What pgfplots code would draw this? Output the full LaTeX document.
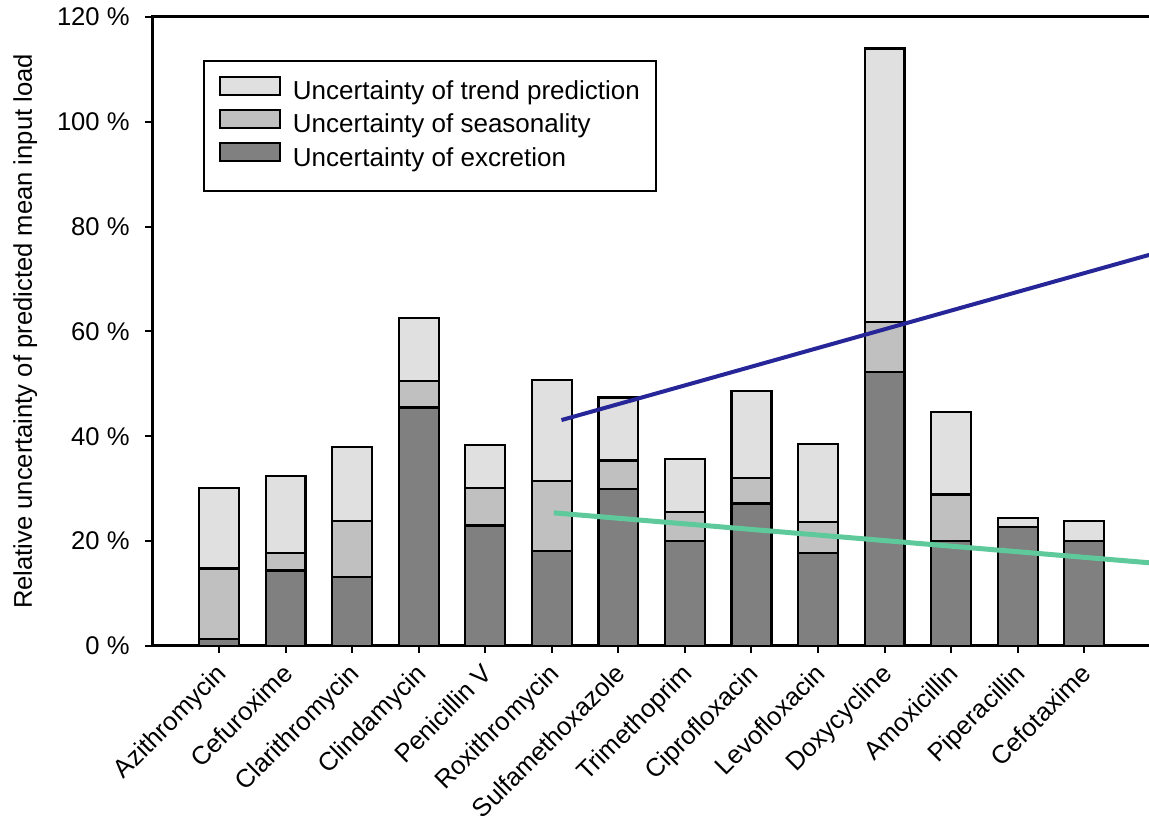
\documentclass[border=0pt]{standalone}
\usepackage{pgfplots}
\usepackage{pgfplotstable}
\pgfplotsset{compat=1.18}
\usepackage{fontspec}
\setmainfont{Liberation Sans}

\definecolor{trendc}{RGB}{224,224,224}
\definecolor{seasc}{RGB}{192,192,192}
\definecolor{excc}{RGB}{128,128,128}
\definecolor{blueline}{RGB}{38,38,152}
\definecolor{greenline}{RGB}{94,201,154}

\pgfplotstableread{
x exc seas trend
0 1.3 13.5 15.3
1 14.4 3.3 14.8
2 13.1 10.7 14.2
3 45.5 5.1 11.9
4 23.0 7.1 8.2
5 18.1 13.4 19.25
6 30.0 5.4 12.0
7 20.1 5.5 10.1
8 27.2 4.8 16.6
9 17.7 6.0 14.9
10 52.3 9.45 52.25
11 20.1 8.8 15.7
12 22.7 0 1.65
13 20.1 0 3.7
}\datatable

\begin{document}
\begin{tikzpicture}[font=\fontsize{12.8}{15}\selectfont]
\begin{axis}[
  at={(0,0)}, anchor=south west,
  scale only axis, width=505.8pt, height=314.5pt,
  xmin=-1, xmax=14.2, ymin=0, ymax=120,
  ybar stacked, bar width=0.6,
  axis line style={line width=1.5pt},
  tick align=outside, tick pos=left,
  major tick length=3.5pt,
  every tick/.style={line width=1pt, black},
  ytick={0,20,...,120},
  /pgf/number format/assume math mode=true,
  yticklabel={\pgfmathprintnumber{\tick} \%},
  yticklabel style={inner sep=0pt, anchor=east, xshift=-7.75pt},
  xtick={0,...,13},
  xticklabels={Azithromycin,Cefuroxime,Clarithromycin,Clindamycin,Penicillin V,Roxithromycin,Sulfamethoxazole,Trimethoprim,Ciprofloxacin,Levofloxacin,Doxycycline,Amoxicillin,Piperacillin,Cefotaxime},
  xticklabel style={inner sep=0pt, anchor=base east, xshift=4.4pt, yshift=-11.2pt, rotate=45},
  ylabel={Relative uncertainty of predicted mean input load},
  ylabel style={at={(rel axis cs:-0.1135,0.5)}, anchor=south, inner sep=0pt, rotate=0},
  reverse legend,
  legend image code/.code={\draw[#1, line width=1pt] (0pt,-1pt) rectangle (30pt,8pt);},
  legend style={at={(rel axis cs:0.0499,0.9316)}, anchor=north west, draw=black, line width=1pt,
    font=\fontsize{13}{15}\selectfont,
    inner xsep=7.5pt, inner ysep=7.5pt, /tikz/column sep=5.5pt,
    nodes={inner xsep=0.5pt, inner ysep=2pt, anchor=west, text height=9.4pt, text depth=2.8pt},
    cells={anchor=west}},
]
\addplot[fill=excc, draw=black, line width=1.1pt] table[x=x, y=exc] {\datatable};
\addlegendentry{Uncertainty of excretion}
\addplot[fill=seasc, draw=black, line width=1.1pt] table[x=x, y=seas] {\datatable};
\addlegendentry{Uncertainty of seasonality}
\addplot[fill=trendc, draw=black, line width=1.1pt] table[x=x, y=trend] {\datatable};
\addlegendentry{Uncertainty of trend prediction}
\end{axis}
\begin{axis}[
  at={(0,0)}, anchor=south west,
  scale only axis, width=505.8pt, height=314.5pt,
  xmin=-1, xmax=14.2, ymin=0, ymax=120,
  hide axis,
]
\addplot[blueline, line width=2pt] coordinates {(5.145,43.1) (14,74.7)};
\addplot[greenline, line width=2.5pt] coordinates {(5.03,25.4) (14,15.85)};
\end{axis}
\pgfresetboundingbox
\path[use as bounding box] (-76.25pt,-88pt) rectangle (498.25pt,323pt);
\end{tikzpicture}
\end{document}
